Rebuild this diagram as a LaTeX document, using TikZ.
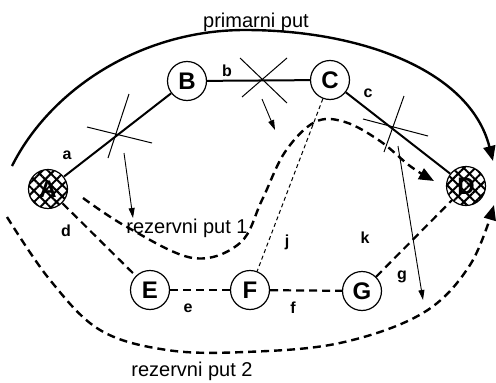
\documentclass[tikz,border=0pt]{standalone}
\usepackage{fontspec}
\setmainfont{Liberation Sans}
\usetikzlibrary{arrows.meta,patterns.meta}
\tikzset{
  nd/.style={circle,draw,line width=1.2pt,fill=white,minimum size=39pt,inner sep=0pt,font=\fontsize{24}{24}\selectfont\bfseries},
  hatched/.style={circle,draw,line width=1.2pt,minimum size=39pt,inner sep=0pt,font=\fontsize{24}{24}\selectfont\bfseries,
    preaction={fill=white},pattern={Hatch[angle=45,distance=8pt,line width=2pt]}},
  lbl/.style={font=\fontsize{16}{16}\selectfont\bfseries,inner sep=0pt},
  txt/.style={font=\fontsize{20}{20}\selectfont,inner sep=0pt,anchor=base},
  solidedge/.style={line width=2pt},
  dashedge/.style={line width=2.2pt,dash pattern=on 8pt off 5pt},
  thindash/.style={line width=1pt,dash pattern=on 4pt off 3pt},
  crossline/.style={line width=1pt},
  thinarrow/.style={line width=0.9pt,-{Triangle[length=10pt,width=6pt]}},
  bigpath/.style={line width=2.4pt,-{Triangle[length=15pt,width=12pt]}},
  backup/.style={line width=2.4pt,dash pattern=on 8pt off 5pt,-{Triangle[length=15pt,width=12pt]}},
}
\begin{document}
\begin{tikzpicture}[x=1pt,y=-1pt]
\useasboundingbox (0,0) rectangle (496,383);

% primary path arc
\coordinate (p0) at (12,166);
\coordinate (p1) at (245,30);
\coordinate (p2) at (493,161);
\draw[bigpath] (p0) .. controls (50,90) and (140,30) .. (p1) .. controls (360,30) and (470,70) .. (p2);

% backup path 1
\draw[backup] plot[smooth,tension=0.6] coordinates {(83,198) (127,227) (193,258) (240,243) (262,200) (285,152) (315,122) (345,122) (380,141) (410,166) (434,181)};

% backup path 2
\draw[backup] plot[smooth,tension=0.6] coordinates {(7,217) (50,280) (100,330) (167,350) (245,352) (340,343) (423,313) (470,265) (494,205)};

% nodes
\node[hatched] (A) at (48,189) {A};
\node[nd] (B) at (187,81) {B};
\node[nd] (C) at (330,80) {C};
\node[hatched] (D) at (466,186) {D};
\node[nd] (E) at (150,290) {E};
\node[nd] (F) at (250,290) {F};
\node[nd] (G) at (362,291) {G};

% edges
\draw[solidedge] (A) -- (B);
\draw[solidedge] (B) -- (C);
\draw[solidedge] (C) -- (D);
\draw[dashedge] (A) -- (E);
\draw[dashedge] (E) -- (F);
\draw[dashedge] (F) -- (G);
\draw[dashedge] (G) -- (D);
\draw[thindash] (C) -- (F);

% crosses
\draw[crossline] (87,127) -- (152,143) (129,94) -- (108,158);
\draw[crossline] (240,58) -- (287,103) (287,58) -- (242,97);
\draw[crossline] (363,119) -- (428,136) (404,96) -- (384,152);

% thin arrows
\coordinate (t1s) at (124,153); \coordinate (t1e) at (133,218);
\coordinate (t2s) at (262,99);  \coordinate (t2e) at (275,130);
\coordinate (t3s) at (398,146); \coordinate (t3e) at (423,300);
\draw[thinarrow] (t1s) -- (t1e);
\draw[thinarrow] (t2s) -- (t2e);
\draw[thinarrow] (t3s) -- (t3e);

% edge labels
\node[lbl] (la) at (67,155) {a};
\node[lbl] (lb) at (227,71) {b};
\node[lbl] (lc) at (368,93) {c};
\node[lbl] (ld) at (66,231) {d};
\node[lbl] (le) at (188,308) {e};
\node[lbl] (lf) at (293,308) {f};
\node[lbl] (lg) at (402,277) {g};
\node[lbl] (lj) at (287,242) {j};
\node[lbl] (lk) at (365,238) {k};

% texts
\node[txt] (tp) at (256,27) {primarni put};
\node[txt] (t1) at (187,233) {rezervni put 1};
\node[txt] (t2) at (192,376) {rezervni put 2};
\end{tikzpicture}
\end{document}
